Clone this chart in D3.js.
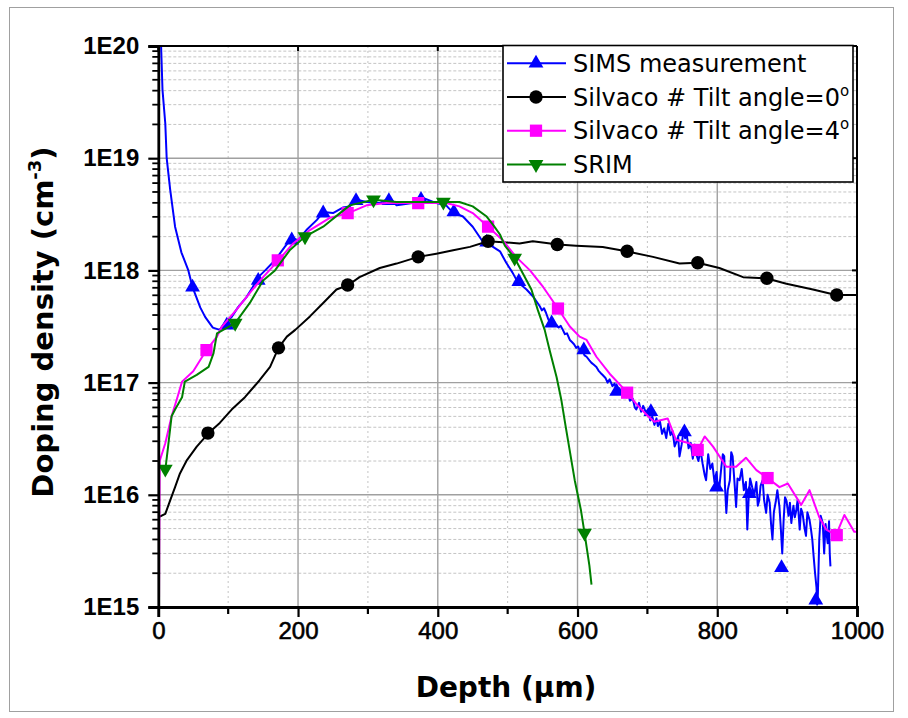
<!DOCTYPE html>
<html><head><meta charset="utf-8">
<script src="https://cdn.jsdelivr.net/npm/d3@7"></script>
<style>body{margin:0;background:#fff}svg{display:block}</style>
</head><body>
<svg id="chart" width="908" height="718"></svg>
<script>
// ---- data (depth in µm, doping density in cm^-3) ----
const simsDepth = [3,4,6,10,12,17,24,33,43,49,60,67,78,88,95,105,114,126,135,143,153,167,181,191,200,212,227,236,250,264,274,284,298,317,331,341,364,379,398,412,421,436,450,464,479,489,498,507,514,527,536,546,549,552,555,558,560,563,566,570,573,576,579,582,585,589,592,595,598,601,604,607,610,613,617,620,623,627,630,633,636,640,643,646,650,653,656,660,663,667,670,673,675,679,682,684,688,691,694,698,701,704,707,710,713,715,718,721,724,727,730,733,736,739,741,744,746,749,752,754,756,759,762,765,768,770,773,776,779,782,784,787,790,793,796,799,801,803,806,808,810,811,813,815,818,820,822,825,827,829,832,835,838,841,843,845,847,850,853,856,858,860,862,865,867,870,872,875,877,879,881,884,886,889,891,893,895,897,899,902,904,906,909,911,913,915,918,920,922,925,927,929,932,934,936,938,940,942,943,944,946,948,951,953,955,958,960,961,962];
const simsValue = [1.12e20,1.0e20,4.07e19,2.04e19,1.0e19,5.25e18,2.45e18,1.45e18,1.0e18,7.08e17,4.68e17,3.85e17,3.09e17,2.95e17,3.39e17,3.85e17,4.68e17,5.75e17,7.08e17,8.71e17,1.0e18,1.23e18,1.62e18,1.95e18,1.86e18,2.29e18,2.82e18,3.31e18,3.24e18,3.63e18,3.72e18,4.27e18,4.07e18,3.98e18,4.42e18,3.80e18,3.98e18,4.42e18,3.98e18,3.80e18,3.31e18,3.02e18,2.45e18,1.82e18,1.62e18,1.48e18,1.17e18,9.55e17,7.94e17,6.76e17,5.89e17,4.79e17,4.4e17,4.6e17,4.17e17,3.7e17,3.47e17,3.6e17,3.3e17,3.24e17,3.1e17,3.2e17,2.95e17,2.7e17,2.75e17,2.4e17,2.3e17,2.2e17,2.04e17,2.1e17,1.85e17,1.95e17,1.75e17,1.7e17,1.58e17,1.5e17,1.45e17,1.38e17,1.28e17,1.22e17,1.17e17,1.10e17,1.0e17,1.07e17,9.3e16,9.8e16,8.5e16,8.9e16,7.9e16,8.3e16,7.4e16,7.9e16,6.9e16,7.2e16,6.0e16,5.75e16,6.6e16,5.5e16,6.2e16,5.4e16,5.8e16,4.6e16,5.0e16,4.2e16,4.8e16,4.1e16,4.5e16,3.5e16,3.9e16,3.2e16,4.3e16,3.4e16,3.7e16,2.7e16,2.9e16,3.3e16,2.2e16,2.8e16,3.8e16,3.2e16,3.55e16,2.6e16,2.9e16,2.1e16,2.8e16,2.3e16,2.0e16,2.5e16,1.9e16,1.5e16,1.35e16,2.3e16,1.7e16,1.9e16,1.3e16,1.6e16,1.1e16,1.17e16,1.8e16,2.3e16,2.2e16,1.2e16,6.9e15,1.1e16,1.35e16,2.4e16,2.2e16,1.2e16,7.8e15,1.4e16,1.35e16,1.7e16,1.1e16,1.3e16,4.9e15,9.5e15,1.4e16,1.17e16,1.0e16,1.3e16,8.0e15,8.9e15,1.2e16,1.35e16,9.0e15,6.9e15,1.0e16,8.5e15,5.5e15,4.0e15,7.0e15,8.9e15,1.1e16,7.8e15,5.0e15,3.0e15,6.0e15,9.5e15,8.9e15,6.5e15,8.5e15,5.6e15,8.0e15,6.3e15,7.2e15,9.0e15,4.9e15,7.5e15,6.9e15,5.0e15,4.3e15,7.0e15,6.0e15,5.0e15,4.0e15,2.8e15,2.0e15,1.5e15,1.05e15,1.3e15,4.0e15,6.5e15,5.6e15,3.0e15,5.5e15,3.7e15,5.8e15,3.0e15,2.3e15];
const simsMarkDepth = [49,98,143,191,236,283,330,376,423,470,516,563,609,656,705,753,799,846,892,941];
const simsMarkValue = [7.08e17,3.24e17,8.13e17,1.86e18,3.24e18,4.17e18,4.17e18,4.27e18,3.31e18,1.78e18,7.94e17,3.39e17,1.95e17,8.32e16,5.50e16,3.63e16,1.17e16,1.02e16,2.24e15,1.15e15];

const tilt0Depth = [0,10,17,24,31,41,55,72,88,105,124,145,160,172,184,196,217,236,255,272,288,317,341,372,398,422,446,472,517,536,572,598,636,670,708,746,772,803,837,870,899,937,970,1000];
const tilt0Value = [6.31e15,6.76e15,8.91e15,1.17e16,1.55e16,2.04e16,2.69e16,3.55e16,4.37e16,5.75e16,7.41e16,1.05e17,1.38e17,2.04e17,2.57e17,2.95e17,3.89e17,5.13e17,6.76e17,7.41e17,8.71e17,1.05e18,1.15e18,1.32e18,1.41e18,1.51e18,1.62e18,1.82e18,1.74e18,1.82e18,1.70e18,1.66e18,1.62e18,1.48e18,1.32e18,1.15e18,1.17e18,1.05e18,8.71e17,8.51e17,7.59e17,6.76e17,6.03e17,6.03e17];
const tilt0MarkDepth = [71,172,271,372,472,571,671,772,871,971];
const tilt0MarkValue = [3.55e16,2.04e17,7.41e17,1.32e18,1.82e18,1.70e18,1.48e18,1.17e18,8.51e17,6.03e17];

const tilt4Depth = [1,2,10,19,26,34,50,69,84,91,112,131,150,172,193,217,246,272,298,327,372,412,431,450,472,493,512,532,551,572,589,603,613,627,646,670,684,701,710,729,741,760,772,782,794,813,827,841,856,872,889,901,920,932,946,956,970,982,996,1000];
const tilt4Value = [1.0e15,2.0e16,2.88e16,5.01e16,6.92e16,1.02e17,1.26e17,1.95e17,2.57e17,3.16e17,4.47e17,6.31e17,8.71e17,1.23e18,1.74e18,2.29e18,2.95e18,3.24e18,3.80e18,3.98e18,3.98e18,3.98e18,3.72e18,3.24e18,2.45e18,1.86e18,1.32e18,1.0e18,7.08e17,4.57e17,3.16e17,2.57e17,2.40e17,1.70e17,1.20e17,8.32e16,6.46e16,5.01e16,4.47e16,4.79e16,3.09e16,2.88e16,2.51e16,3.31e16,2.69e16,1.78e16,1.78e16,2.14e16,1.66e16,1.41e16,1.17e16,1.26e16,8.13e15,1.10e16,6.31e15,4.90e15,4.37e15,6.61e15,4.68e15,4.68e15];
const tilt4MarkDepth = [69,171,271,372,472,572,671,772,872,971];
const tilt4MarkValue = [1.95e17,1.23e18,3.24e18,3.98e18,2.45e18,4.57e17,8.13e16,2.51e16,1.41e16,4.37e15];

const srimDepth = [10,14,19,24,34,38,55,72,79,84,110,131,150,167,188,210,236,260,274,308,341,374,408,431,450,470,480,489,496,510,522,534,543,553,560,570,577,583,596,605,610,617,620];
const srimValue = [1.66e16,2.69e16,5.01e16,5.75e16,7.41e16,1.02e17,1.17e17,1.38e17,1.82e17,2.75e17,3.39e17,5.13e17,8.13e17,1.0e18,1.51e18,2.0e18,2.45e18,3.24e18,3.80e18,4.27e18,4.07e18,4.07e18,4.07e18,4.07e18,3.72e18,3.02e18,2.51e18,2.09e18,1.66e18,1.29e18,9.33e17,6.76e17,4.47e17,2.95e17,1.95e17,1.12e17,6.92e16,4.07e16,1.35e16,7.24e15,4.57e15,2.34e15,1.58e15];
const srimMarkDepth = [10,110,210,308,408,510,610];
const srimMarkValue = [1.70e16,3.39e17,2.0e18,4.27e18,4.07e18,1.29e18,4.57e15];

const xTicks = [0,200,400,600,800,1000];
const xMinorTicks = [100,300,500,700,900];
const yTicks = [1e15,1e16,1e17,1e18,1e19,1e20];
const yTickLabels = ["1E15","1E16","1E17","1E18","1E19","1E20"];
const legendLabels = ["SIMS measurement","Silvaco # Tilt angle=0","Silvaco # Tilt angle=4","SRIM"];
const legendSup = ["","o","o",""];

// ---- drawing ----
const svg = d3.select("#chart");
const L = 158.3, R = 857, T = 46, B = 607;
const x = d3.scaleLinear().domain([0,1000]).range([L,R]);
const y = d3.scaleLog().domain([1e15,1e20]).range([B,T]);

svg.append("rect").attr("x",9.5).attr("y",7.5).attr("width",884).attr("height",704)
  .attr("fill","#fff").attr("stroke","#a0a0a0").attr("stroke-width",1);

// minor grid y
const yMinor = [];
for (let e=15;e<20;e++) for (let k=2;k<=9;k++) yMinor.push(k*Math.pow(10,e));
const grid = svg.append("g");
grid.selectAll(".ymg").data(yMinor).join("line")
  .attr("x1",L).attr("x2",R).attr("y1",d=>y(d)).attr("y2",d=>y(d))
  .attr("stroke","#c4c4c4").attr("stroke-width",1).attr("stroke-dasharray","3,2");
grid.selectAll(".xmg").data(xMinorTicks).join("line")
  .attr("x1",d=>x(d)).attr("x2",d=>x(d)).attr("y1",T).attr("y2",B)
  .attr("stroke","#c4c4c4").attr("stroke-width",1).attr("stroke-dasharray","2,3");
grid.selectAll(".yMg").data(yTicks.slice(1,5)).join("line")
  .attr("x1",L).attr("x2",R).attr("y1",d=>y(d)).attr("y2",d=>y(d))
  .attr("stroke","#a0a0a0").attr("stroke-width",1.4);
grid.selectAll(".xMg").data(xTicks.slice(1,5)).join("line")
  .attr("x1",d=>x(d)).attr("x2",d=>x(d)).attr("y1",T).attr("y2",B)
  .attr("stroke","#a0a0a0").attr("stroke-width",1.4);

// clip
svg.append("clipPath").attr("id","clip").append("rect")
  .attr("x",L).attr("y",T).attr("width",R-L).attr("height",B-T);

const line = d3.line().x(d=>x(d[0])).y(d=>y(d[1]));
const zip = (a,b)=>a.map((v,i)=>[v,b[i]]);
const series = [
  {d:simsDepth, v:simsValue, md:simsMarkDepth, mv:simsMarkValue, color:"#0000ff", sym:d3.symbolTriangle, size:95, rot:0},
  {d:tilt0Depth, v:tilt0Value, md:tilt0MarkDepth, mv:tilt0MarkValue, color:"#000000", sym:d3.symbolCircle, size:140, rot:0},
  {d:tilt4Depth, v:tilt4Value, md:tilt4MarkDepth, mv:tilt4MarkValue, color:"#ff00ff", sym:d3.symbolSquare, size:150, rot:0},
  {d:srimDepth, v:srimValue, md:srimMarkDepth, mv:srimMarkValue, color:"#008000", sym:d3.symbolTriangle, size:95, rot:180}
];
const plot = svg.append("g").attr("clip-path","url(#clip)");
series.forEach(s=>{
  plot.append("path").datum(zip(s.d,s.v)).attr("d",line)
    .attr("fill","none").attr("stroke",s.color).attr("stroke-width",2).attr("stroke-linejoin","round");
  plot.selectAll(null).data(zip(s.md,s.mv)).join("path")
    .attr("d",d3.symbol().type(s.sym).size(s.size))
    .attr("transform",d=>`translate(${x(d[0])},${y(d[1])}) rotate(${s.rot})`)
    .attr("fill",s.color);
});

// axes
const ax = svg.append("g");
ax.append("line").attr("x1",L).attr("x2",R).attr("y1",T).attr("y2",T).attr("stroke","#000").attr("stroke-width",2);
ax.append("line").attr("x1",R).attr("x2",R).attr("y1",T).attr("y2",B).attr("stroke","#000").attr("stroke-width",2);
ax.selectAll(".tt").data(xTicks).join("line").attr("x1",d=>x(d)).attr("x2",d=>x(d)).attr("y1",T).attr("y2",T+5).attr("stroke","#000").attr("stroke-width",2);
ax.selectAll(".rt").data(yTicks).join("line").attr("x1",R-5).attr("x2",R).attr("y1",d=>y(d)).attr("y2",d=>y(d)).attr("stroke","#000").attr("stroke-width",2);

const xAxis = d3.axisBottom(x).tickValues(xTicks).tickSize(10).tickFormat(d3.format("d"));
const gx = svg.append("g").attr("transform",`translate(0,${B})`).call(xAxis);
gx.select(".domain").attr("stroke-width",2.8);
gx.selectAll(".tick line").attr("stroke-width",2.2);
gx.selectAll(".tick text").attr("font-family","Liberation Sans, Arial, sans-serif").attr("font-size",24)
  .attr("fill","#000").attr("stroke","#000").attr("stroke-width",0.6).attr("dy","0.78em").attr("y",13);
gx.selectAll(".xminor").data(xMinorTicks).join("line").attr("x1",d=>x(d)).attr("x2",d=>x(d)).attr("y1",0).attr("y2",7).attr("stroke","#000").attr("stroke-width",2.2);

const yAxis = d3.axisLeft(y).tickValues(yTicks).tickSize(10).tickFormat((d,i)=>yTickLabels[i]);
const gy = svg.append("g").attr("transform",`translate(${L},0)`).call(yAxis);
gy.select(".domain").attr("stroke-width",2.8);
gy.selectAll(".tick line").attr("stroke-width",2.2);
gy.selectAll(".tick text").attr("font-family","Liberation Sans, Arial, sans-serif").attr("font-size",24)
  .attr("font-weight","bold").attr("fill","#000").attr("x",-19);
gy.selectAll(".yminor").data(yMinor).join("line").attr("x1",-6).attr("x2",0).attr("y1",d=>y(d)).attr("y2",d=>y(d)).attr("stroke","#000").attr("stroke-width",1.8);

// titles
svg.append("text").attr("x",506).attr("y",697).attr("text-anchor","middle")
  .attr("font-family","DejaVu Sans, Verdana, sans-serif").attr("font-weight","bold").attr("font-size",28)
  .text("Depth (µm)");
const yt = svg.append("text").attr("transform","translate(53,322) rotate(-90)").attr("text-anchor","middle")
  .attr("font-family","DejaVu Sans, Verdana, sans-serif").attr("font-weight","bold").attr("font-size",29);
yt.append("tspan").text("Doping density (cm");
yt.append("tspan").attr("font-size",18).attr("dy",-12).text("-3");
yt.append("tspan").attr("dy",12).text(")");

// legend
const lg = svg.append("g");
lg.append("rect").attr("x",503).attr("y",45.5).attr("width",350).attr("height",136.5)
  .attr("fill","#fff").attr("stroke","#000").attr("stroke-width",1.6);
series.forEach((s,i)=>{
  const cy = 63.3 + i*33.7;
  lg.append("line").attr("x1",507).attr("x2",566).attr("y1",cy).attr("y2",cy).attr("stroke",s.color).attr("stroke-width",2);
  lg.append("path").attr("d",d3.symbol().type(s.sym).size(s.size)()).attr("transform",`translate(536,${cy}) rotate(${s.rot})`).attr("fill",s.color);
  const t = lg.append("text").attr("x",573).attr("y",cy).attr("dy","0.36em")
    .attr("font-family","DejaVu Sans, Verdana, sans-serif").attr("font-size",24).attr("fill","#000");
  t.append("tspan").text(legendLabels[i]);
  if (legendSup[i]) t.append("tspan").attr("font-size",15).attr("dy",-10).text(legendSup[i]);
});
</script>
</body></html>
